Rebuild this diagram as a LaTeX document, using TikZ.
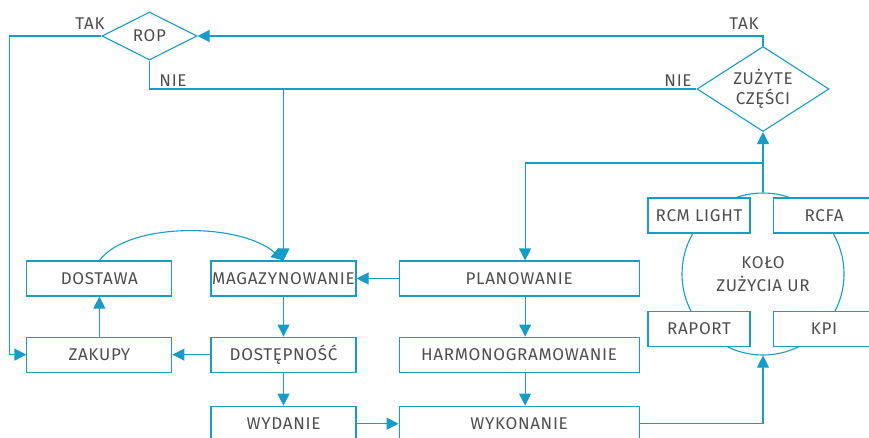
\documentclass[tikz,border=0pt]{standalone}
\usepackage{fontspec}
\setmainfont[LetterSpace=4]{Fira Sans}
\usepackage{xcolor}
\usepackage{tikz}
\usetikzlibrary{shapes.geometric,arrows.meta,positioning}
\definecolor{urBlue}{RGB}{22,156,200}
\definecolor{urGray}{RGB}{78,78,80}

\begin{document}
\begin{tikzpicture}[
        x=1pt, y=-1pt,
        font=\fontsize{17}{20}\selectfont, text=urGray,
        box/.style={rectangle, draw=urBlue, line width=1.1pt, fill=white, align=center, minimum height=35pt, minimum width=145pt, inner sep=0pt},
        widebox/.style={box, minimum width=240pt},
        smallbox/.style={box, minimum width=102pt},
        decision/.style={diamond, draw=urBlue, line width=1.1pt, inner sep=0pt},
        line/.style={draw=urBlue, line width=1.1pt},
        arrow/.style={line, -{Triangle[length=12pt,width=12pt]}}
    ]
    \useasboundingbox (0,0) rectangle (869,437);
    \clip (0,0) rectangle (869,437);

    % Kolo zuzycia
    \node[circle, draw=urBlue, line width=1.1pt, minimum size=162pt, inner sep=0pt, align=center, font=\fontsize{17}{23}\selectfont] (kolo) at (763,274) {KOŁO\\ZUŻYCIA UR};
    \node[smallbox] (rcm) at (699,215.5) {RCM LIGHT};
    \node[smallbox, right=22pt of rcm] (rcfa) {RCFA};
    \node[smallbox] (raport) at (699,329) {RAPORT};
    \node[smallbox, right=22pt of raport] (kpi) {KPI};

    % Decyzje
    \node[decision, minimum width=95pt, minimum height=48pt] (rop) at (149.5,36) {ROP};
    \node[decision, minimum width=132pt, minimum height=85pt, label={[align=center]center:ZUŻYTE\\CZĘŚCI}] (zuzyte) at (763,89) {};

    % Lewa czesc
    \node[box] (magazyn) at (283.5,278.5) {MAGAZYNOWANIE};
    \node[box, left=38pt of magazyn] (dostawa) {DOSTAWA};
    \node[box, below=40pt of magazyn] (dostepnosc) {DOSTĘPNOŚĆ};
    \node[box, below=40pt of dostawa] (zakupy) {ZAKUPY};
    \node[box, below=33pt of dostepnosc] (wydanie) {WYDANIE};

    % Srodkowa czesc
    \node[widebox, right=42pt of magazyn] (planowanie) {PLANOWANIE};
    \node[widebox, below=40pt of planowanie] (harmono) {HARMONOGRAMOWANIE};
    \node[widebox, below=33pt of harmono] (wykonanie) {WYKONANIE};

    % Etykiety
    \node (takrop) at (90,24) {TAK};
    \node (nierop) at (173,81) {NIE};
    \node (takzuz) at (744,24) {TAK};
    \node (niezuz) at (678,81) {NIE};

    % Polaczenia
    \coordinate (split) at (763,163);
    \draw[arrow] (zuzyte.north) |- (rop.east);
    \draw[arrow] (rop.west) -- ++(-92pt,0) |- (zakupy.west);
    \draw[line] (rop.south) |- (zuzyte.west);
    \draw[arrow] (magazyn.north |- zuzyte.west) -- (magazyn.north);
    \draw[arrow] (kolo.north) -- (zuzyte.south);
    \draw[arrow] (split) -| ([xshift=6pt]planowanie.north);
    \draw[arrow] (dostawa.north) .. controls (128,222) and (240,222) .. (magazyn.north);
    \draw[arrow] (planowanie.west) -- (magazyn.east);
    \draw[arrow] (magazyn.south) -- (dostepnosc.north);
    \draw[arrow] (dostepnosc.west) -- (zakupy.east);
    \draw[arrow] (zakupy.north) -- (dostawa.south);
    \draw[arrow] (dostepnosc.south) -- (wydanie.north);
    \draw[arrow] (wydanie.east) -- (wykonanie.west);
    \draw[arrow] ([xshift=6pt]planowanie.south) -- ([xshift=6pt]harmono.north);
    \draw[arrow] ([xshift=6pt]harmono.south) -- ([xshift=6pt]wykonanie.north);
    \draw[arrow] (wykonanie.east) -| (kolo.south);

    \end{tikzpicture}
\end{document}
